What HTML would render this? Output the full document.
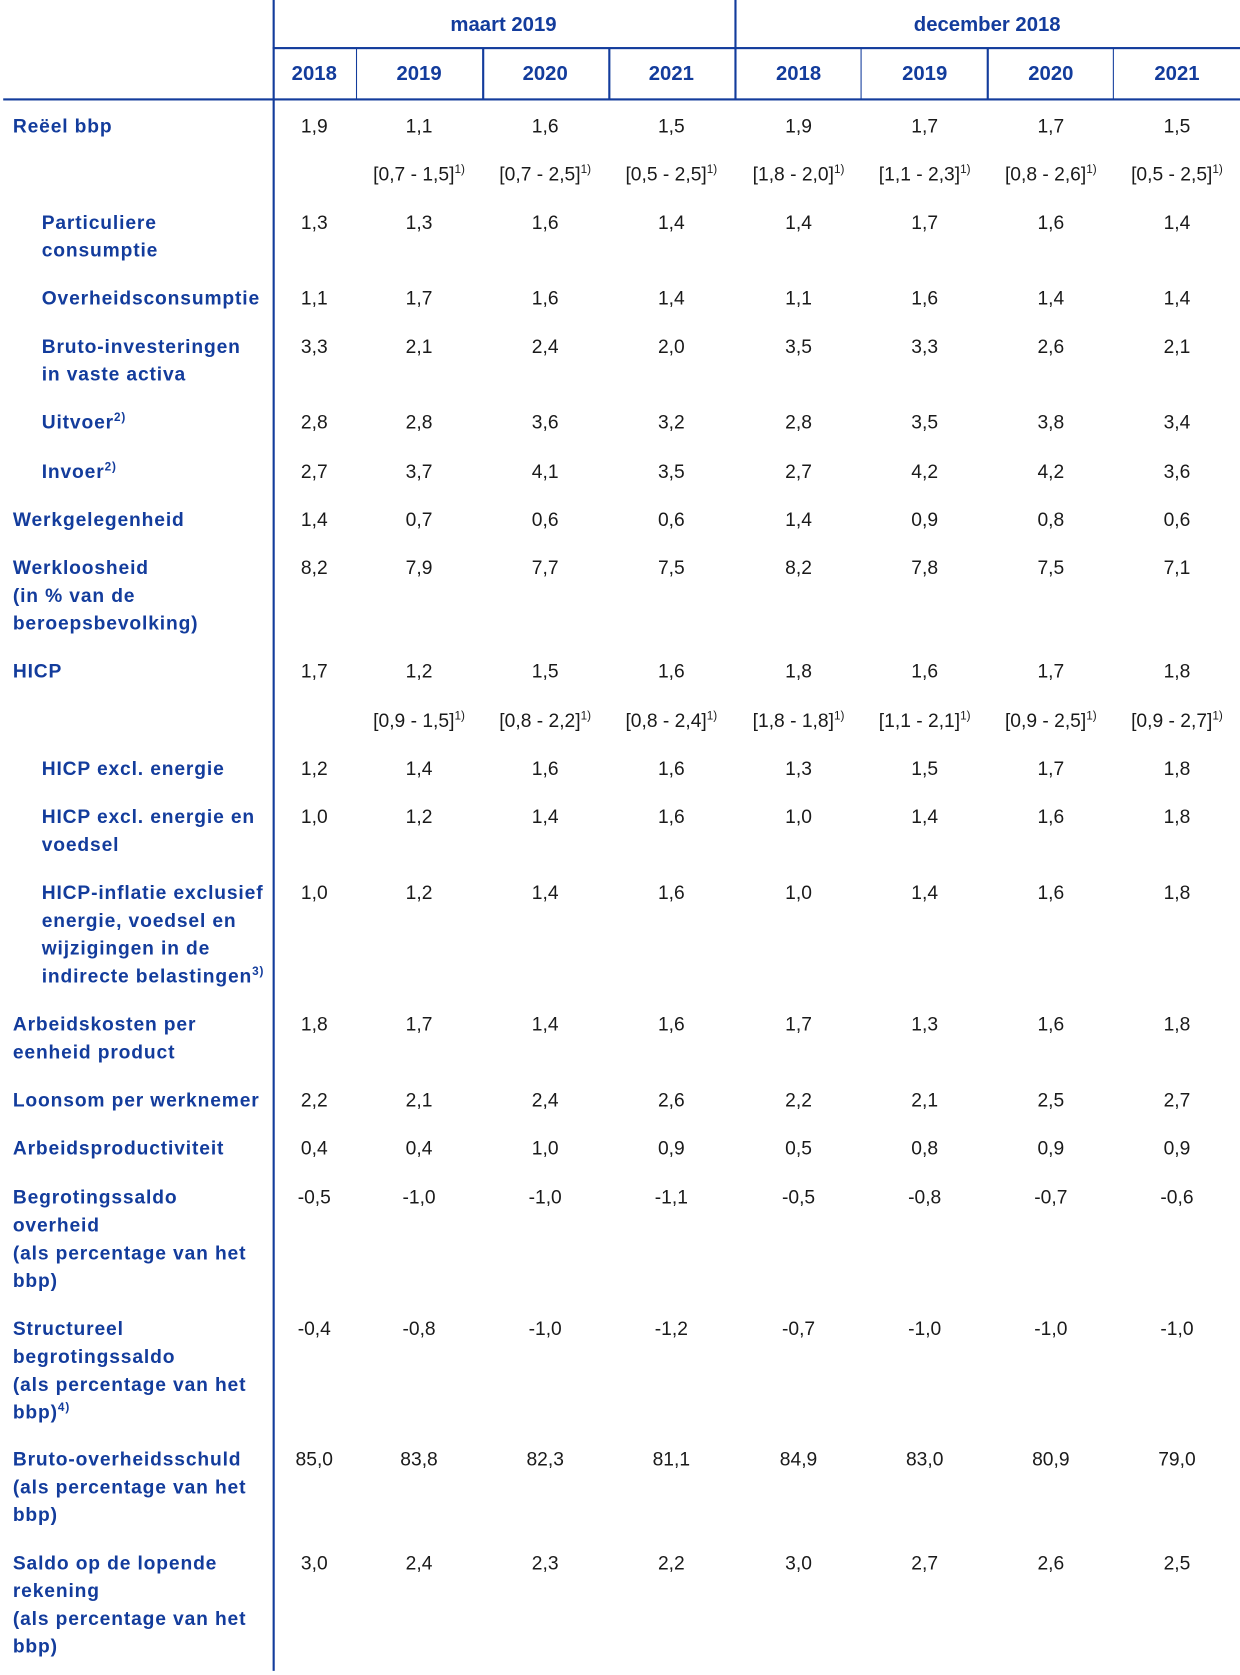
<!DOCTYPE html>
<html><head><meta charset="utf-8"><style>
body{margin:0;background:#fff;width:1240px;height:1675px;position:relative;font-family:"Liberation Sans",sans-serif;overflow:hidden}
#w{position:absolute;left:0;top:0;width:1160px;height:1567px;transform:scale(1.069);transform-origin:0 0}
.l{position:absolute;font-weight:bold;color:#133c9c;font-size:18px;line-height:26px;letter-spacing:0.8px;white-space:nowrap}
.d{position:absolute;width:118px;text-align:center;font-size:18px;line-height:26px;color:#1a1a1a;white-space:nowrap}
.h{position:absolute;font-weight:bold;color:#133c9c;font-size:19px;line-height:26px;text-align:center}
.v{position:absolute;background:#133c9c;width:1.5px}
.hl{position:absolute;background:#133c9c;height:2px}
sup{font-size:11px;vertical-align:7px;line-height:0}
</style></head><body><div id="w">
<div class="v" style="left:255px;top:0;height:1563px"></div>
<div class="v" style="left:687px;top:0;height:93px"></div>
<div class="v" style="left:333px;top:45px;height:48px;width:1px"></div>
<div class="v" style="left:451px;top:45px;height:48px"></div>
<div class="v" style="left:569px;top:45px;height:48px"></div>
<div class="v" style="left:805px;top:45px;height:48px;width:1px"></div>
<div class="v" style="left:923px;top:45px;height:48px"></div>
<div class="v" style="left:1041px;top:45px;height:48px;width:1px"></div>
<div class="hl" style="left:255px;top:44px;width:905px"></div>
<div class="hl" style="left:3px;top:92px;width:1157px;height:1.5px"></div>
<div class="h" style="left:255px;top:11px;width:432px">maart 2019</div>
<div class="h" style="left:687px;top:11px;width:473px">december 2018</div>
<div id="c"></div>
</div>
<script>
const cx=[294,392,510,628,747,865,983,1101];
let H='';
const yr=['2018','2019','2020','2021','2018','2019','2020','2021'];
yr.forEach((y,i)=>{H+=`<div class="h" style="left:${cx[i]-59}px;top:57px;width:118px">${y}</div>`});
const rows=[
[118,12,['Reëel bbp'],'1,9 1,1 1,6 1,5 1,9 1,7 1,7 1,5'],
[208,39,['Particuliere','consumptie'],'1,3 1,3 1,6 1,4 1,4 1,7 1,6 1,4'],
[279,39,['Overheidsconsumptie'],'1,1 1,7 1,6 1,4 1,1 1,6 1,4 1,4'],
[324,39,['Bruto-investeringen','in vaste activa'],'3,3 2,1 2,4 2,0 3,5 3,3 2,6 2,1'],
[395,39,['Uitvoer<sup>2)</sup>'],'2,8 2,8 3,6 3,2 2,8 3,5 3,8 3,4'],
[441,39,['Invoer<sup>2)</sup>'],'2,7 3,7 4,1 3,5 2,7 4,2 4,2 3,6'],
[486,12,['Werkgelegenheid'],'1,4 0,7 0,6 0,6 1,4 0,9 0,8 0,6'],
[531,12,['Werkloosheid','(in % van de','beroepsbevolking)'],'8,2 7,9 7,7 7,5 8,2 7,8 7,5 7,1'],
[628,12,['HICP'],'1,7 1,2 1,5 1,6 1,8 1,6 1,7 1,8'],
[719,39,['HICP excl. energie'],'1,2 1,4 1,6 1,6 1,3 1,5 1,7 1,8'],
[764,39,['HICP excl. energie en','voedsel'],'1,0 1,2 1,4 1,6 1,0 1,4 1,6 1,8'],
[835,39,['HICP-inflatie exclusief','energie, voedsel en','wijzigingen in de','indirecte belastingen<sup>3)</sup>'],'1,0 1,2 1,4 1,6 1,0 1,4 1,6 1,8'],
[958,12,['Arbeidskosten per','eenheid product'],'1,8 1,7 1,4 1,6 1,7 1,3 1,6 1,8'],
[1029,12,['Loonsom per werknemer'],'2,2 2,1 2,4 2,6 2,2 2,1 2,5 2,7'],
[1074,12,['Arbeidsproductiviteit'],'0,4 0,4 1,0 0,9 0,5 0,8 0,9 0,9'],
[1120,12,['Begrotingssaldo','overheid','(als percentage van het','bbp)'],'-0,5 -1,0 -1,0 -1,1 -0,5 -0,8 -0,7 -0,6'],
[1243,12,['Structureel','begrotingssaldo','(als percentage van het','bbp)<sup>4)</sup>'],'-0,4 -0,8 -1,0 -1,2 -0,7 -1,0 -1,0 -1,0'],
[1365,12,['Bruto-overheidsschuld','(als percentage van het','bbp)'],'85,0 83,8 82,3 81,1 84,9 83,0 80,9 79,0'],
[1462,12,['Saldo op de lopende','rekening','(als percentage van het','bbp)'],'3,0 2,4 2,3 2,2 3,0 2,7 2,6 2,5']
];
rows.forEach(r=>{
 r[2].forEach((t,k)=>{H+=`<div class="l" style="left:${r[1]}px;top:${r[0]-13+k*26}px">${t}</div>`});
 r[3].split(' ').forEach((v,i)=>{H+=`<div class="d" style="left:${cx[i]-59}px;top:${r[0]-13}px">${v}</div>`});
});
const rng=[[163,['','[0,7 - 1,5]','[0,7 - 2,5]','[0,5 - 2,5]','[1,8 - 2,0]','[1,1 - 2,3]','[0,8 - 2,6]','[0,5 - 2,5]']],
[674,['','[0,9 - 1,5]','[0,8 - 2,2]','[0,8 - 2,4]','[1,8 - 1,8]','[1,1 - 2,1]','[0,9 - 2,5]','[0,9 - 2,7]']]];
rng.forEach(r=>{r[1].forEach((v,i)=>{if(v)H+=`<div class="d" style="left:${cx[i]-59}px;top:${r[0]-13}px">${v}<sup>1)</sup></div>`})});
document.getElementById('c').innerHTML=H;
</script>
</body></html>
